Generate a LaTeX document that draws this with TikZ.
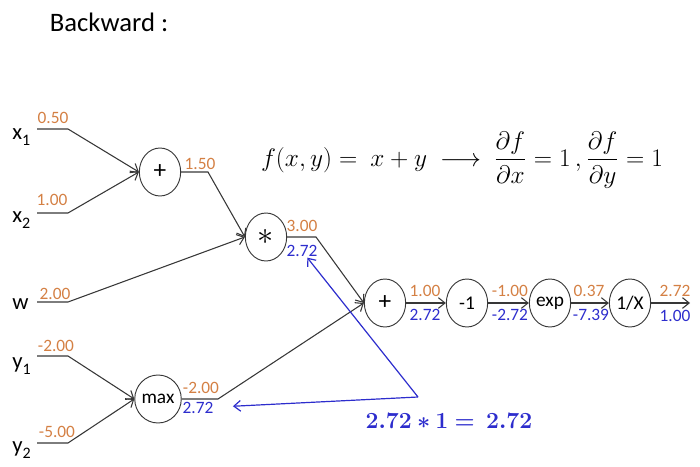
\documentclass[tikz,border=0pt]{standalone}
\usepackage{graphicx}
\usepackage{amsmath}
\usepackage{bm}
\usepackage{fontspec}
\setmainfont{Carlito}
\usetikzlibrary{shapes.geometric, arrows.meta, positioning}

\definecolor{fwdorange}{RGB}{212,128,68}
\definecolor{bwdblue}{RGB}{45,45,205}
\definecolor{wiregray}{RGB}{55,55,55}
\newcommand{\lowidx}[1]{\raisebox{-4.5pt}{\fontsize{12}{12}\selectfont #1}}

\begin{document}
\begin{tikzpicture}[
      x=0.75pt, y=-0.75pt,
      gate/.style={
          ellipse,
          draw=wiregray,
          line width=0.7pt,
          align=center,
          minimum width=31pt,
          minimum height=36pt,
          inner sep=0pt,
          font=\fontsize{14.5}{16}\selectfont
        },
      bigsign/.style={
          font=\fontsize{19}{20}\selectfont
        },
      var/.style={
          anchor=base west,
          inner sep=0pt,
          font=\fontsize{17}{19}\selectfont
        },
      val/.style={
          inner sep=0.5pt,
          text=fwdorange,
          font=\fontsize{13}{15}\selectfont
        },
      grad/.style={
          inner sep=0.5pt,
          text=bwdblue,
          font=\fontsize{13}{15}\selectfont
        },
      arrow/.style={
          -{Straight Barb[length=5pt,width=8pt]},
          draw=wiregray,
          line width=0.8pt
        },
      back/.style={
          -{Straight Barb[length=5pt,width=8pt]},
          draw=bwdblue,
          line width=0.9pt
        }
    ]
    \useasboundingbox (0,0) rectangle (700,467);

    % Title and formulas
    \node[inner sep=0pt, font=\fontsize{20}{24}\selectfont] (head) at (109,22) {Backward :};
    \node[inner sep=0pt, font=\fontsize{18}{22}\selectfont] (rule) at (462,160) {\scalebox{1.1}{$\displaystyle f(x,y) = \ x + y \ \longrightarrow\ \frac{\partial f}{\partial x} = 1\,,\frac{\partial f}{\partial y} = 1$}};
    \node[inner sep=0pt, text=bwdblue, font=\fontsize{16}{20}\selectfont] (eqn) at (449,421) {$\bm{2.72 \ast 1 = \ 2.72}$};

    % Inputs
    \node[var] (x1) at (12,139) {x\lowidx{1}};
    \node[var] (x2) at (12,222) {x\lowidx{2}};
    \node[var] (w) at (12,309) {w};
    \node[var] (y1) at (12,368) {y\lowidx{1}};
    \node[var] (y2) at (12,452) {y\lowidx{2}};

    \coordinate (x1s) at (37,129);  \coordinate (x1b) at (68,129);
    \coordinate (x2s) at (37,213);  \coordinate (x2b) at (68,213);
    \coordinate (ws) at (37,302);   \coordinate (wb) at (68,302);
    \coordinate (y1s) at (37,356);  \coordinate (y1b) at (68,356);
    \coordinate (y2s) at (37,443);  \coordinate (y2b) at (68,443);

    % Gates
    \node[gate, bigsign] (add1) at (160,172) {+};
    \node[gate, bigsign] (mul) at (266,237) {\scalebox{1.4}{$\ast$}};
    \node[gate] (max) at (158,399) {max};
    \node[gate, bigsign] (add2) at (385,303) {+};
    \node[gate] (neg) at (467,303) {-1};
    \node[gate] (exp) at (550,303) {exp};
    \node[gate] (inv) at (630,303) {1/X};

    \coordinate (add1b) at (208,172);
    \coordinate (mulb) at (316,237);
    \coordinate (maxb) at (218,399);
    \coordinate (out) at (690,303);
    \coordinate (apex) at (418,397);

    % Forward values
    \node[val] (vx1) at (53,118) {0.50};
    \node[val] (vx2) at (52,200) {1.00};
    \node[val] (vw) at (55,294) {2.00};
    \node[val] (vy1) at (56,346) {-2.00};
    \node[val] (vy2) at (57,432) {-5.00};
    \node[val] (vadd1) at (200,164) {1.50};
    \node[val] (vmul) at (302,226) {3.00};
    \node[val] (vmax) at (201,388) {-2.00};
    \node[val] (vadd2) at (425,291) {1.00};
    \node[val] (vneg) at (510,291) {-1.00};
    \node[val] (vexp) at (589,291) {0.37};
    \node[val] (vinv) at (675,291) {2.72};

    % Gradients
    \node[grad] (gmul) at (302,251) {2.72};
    \node[grad] (gmax) at (198,408) {2.72};
    \node[grad] (gadd2) at (425,315) {2.72};
    \node[grad] (gneg) at (510,315) {-2.72};
    \node[grad] (gexp) at (591,315) {-7.39};
    \node[grad] (ginv) at (675,316) {1.00};

    % Arrows
    \draw[arrow] (x1s) -- (x1b) -- (add1.west);
    \draw[arrow] (x2s) -- (x2b) -- (add1.west);
    \draw[arrow] (add1.east) -- (add1b) -- (mul.west);
    \draw[arrow] (ws) -- (wb) -- (mul.west);
    \draw[arrow] (y1s) -- (y1b) -- (max.west);
    \draw[arrow] (y2s) -- (y2b) -- (max.west);
    \draw[arrow] (mul.east) -- (mulb) -- (add2.west);
    \draw[arrow] (max.east) -- (maxb) -- (add2.west);
    \draw[arrow] (add2) -- (neg);
    \draw[arrow] (neg) -- (exp);
    \draw[arrow] (exp) -- (inv);
    \draw[arrow] (inv) -- (out);

    % Backward arrows
    \draw[back] (apex) -- (gmul);
    \draw[back, shorten >=14pt] (apex) -- (gmax);
  \end{tikzpicture}
\end{document}
